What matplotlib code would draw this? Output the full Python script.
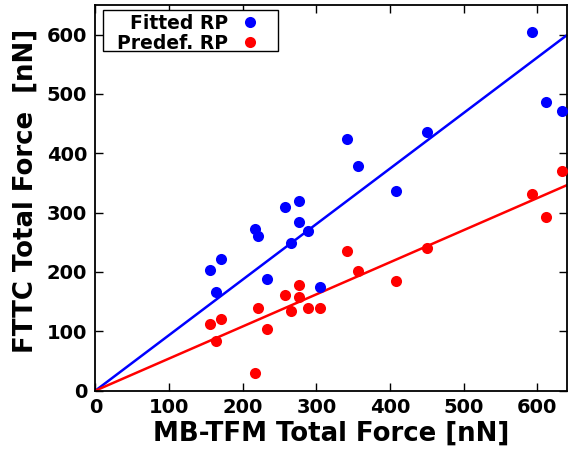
import numpy as np
import matplotlib
matplotlib.use('Agg')
import matplotlib.pyplot as plt
from matplotlib.patches import Rectangle

# MB-TFM total force (x) shared by both series
mbtfm = [156, 164, 170, 217, 221, 233, 257, 266, 276, 277, 289, 305,
         341, 357, 408, 450, 593, 612, 633]
fitted_rp = [203, 166, 222, 272, 261, 188, 310, 249, 319, 284, 269, 175,
             424, 379, 336, 436, 604, 487, 472]
predef_rp = [113, 84, 120, 30, 140, 104, 161, 134, 178, 158, 139, 140,
             236, 202, 185, 241, 331, 292, 370]
fitted_slope = 0.936
predef_slope = 0.541

plt.rcParams['font.family'] = 'DejaVu Sans'
plt.rcParams['font.weight'] = 'bold'

fig = plt.figure(figsize=(5.68, 4.49), dpi=100)
ax = fig.add_axes([0.168, 0.13, 0.83, 0.859])

xfit = np.array([0, 640])
ax.plot(xfit, fitted_slope * xfit, color='blue', lw=1.8, zorder=2)
ax.plot(xfit, predef_slope * xfit, color='red', lw=1.8, zorder=2)
ax.plot(mbtfm, fitted_rp, 'o', color='blue', ms=8, mec='none',
        label='Fitted RP', zorder=3)
ax.plot(mbtfm, predef_rp, 'o', color='red', ms=8, mec='none',
        label='Predef. RP', zorder=3)

ax.set_xlim(0, 640)
ax.set_ylim(0, 650)
ax.set_xticks(range(0, 700, 100))
ax.set_yticks(range(0, 700, 100))
ax.tick_params(direction='in', length=6, width=1, top=True, right=True,
               labelsize=14)
ax.tick_params(axis='x', pad=5)
ax.tick_params(axis='y', pad=6)
for lab in ax.get_xticklabels() + ax.get_yticklabels():
    lab.set_fontweight('bold')
for sp in ax.spines.values():
    sp.set_linewidth(1.3)

ax.set_xlabel('MB-TFM Total Force [nN]', fontsize=18.7, fontweight='bold',
              labelpad=3)
ax.set_ylabel('FTTC Total Force  [nN]', fontsize=18.7, fontweight='bold')
ax.yaxis.set_label_coords(-0.121, 0.518)

# legend: markers after text, square black frame
leg = ax.legend(loc='upper right', bbox_to_anchor=(0.348, 0.977),
                numpoints=1, markerfirst=False, frameon=False,
                prop={'size': 13.5, 'weight': 'bold'}, borderpad=0,
                labelspacing=0.05, handlelength=1.0, handletextpad=0.66,
                borderaxespad=0)
for t in leg.get_texts():
    t.set_ha('right')
ax.add_patch(Rectangle((0.0168, 0.881), 0.371, 0.106, transform=ax.transAxes,
                       facecolor='white', edgecolor='black', lw=1.0,
                       zorder=4))
leg.set_zorder(5)

fig.savefig('out.png', dpi=100)
